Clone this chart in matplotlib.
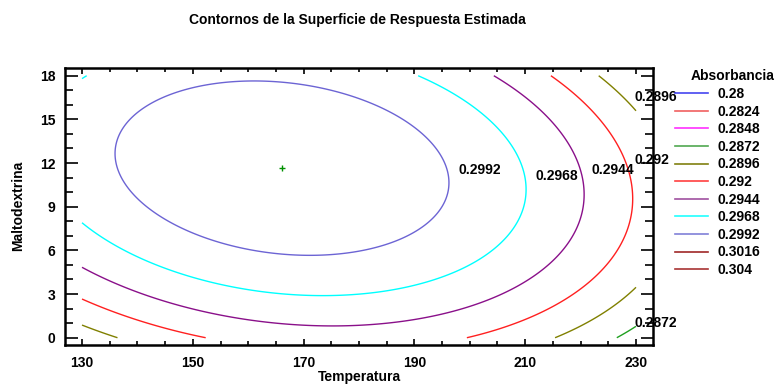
import matplotlib
matplotlib.use("Agg")
import matplotlib.pyplot as plt
import numpy as np
from matplotlib.lines import Line2D
from matplotlib.ticker import MultipleLocator

plt.rcParams['font.family'] = ['Liberation Sans', 'DejaVu Sans']
plt.rcParams['font.weight'] = 'bold'

# estimated response surface (canonical form around the optimum)
temp_opt = 166.1
malto_opt = 11.65
absorb_opt = 0.30131
coef_tt = 2.39e-6     # Temperatura^2
coef_mm = 6.05e-5     # Maltodextrina^2
coef_tm = 4.02e-6     # Temperatura*Maltodextrina

temp_range = [130, 230]
malto_range = [0, 18]

levels = [0.28, 0.2824, 0.2848, 0.2872, 0.2896, 0.292, 0.2944, 0.2968, 0.2992, 0.3016, 0.304]
level_labels = ['0.28', '0.2824', '0.2848', '0.2872', '0.2896', '0.292', '0.2944',
                '0.2968', '0.2992', '0.3016', '0.304']
line_colors = ['#3c3cf0', '#f05050', '#ff00ff', '#20a020', '#808000', '#ff2020',
               '#8a108a', '#00ffff', '#6c64d4', '#9a2424', '#a83030']
legend_colors = ['#4646f0', '#f06060', '#ff30ff', '#50a850', '#808010', '#ff4040',
                 '#a050a0', '#20ffff', '#8080d8', '#a02828', '#a83434']

# contour labels shown on the chart
label_text = ['0.2992', '0.2968', '0.2944', '0.292', '0.2896', '0.2872']
label_x = [197.9, 211.9, 221.9, 229.8, 229.8, 229.8]
label_y = [11.53, 11.12, 11.53, 12.22, 16.57, 1.01]

# evaluate the fitted surface
t = np.linspace(temp_range[0], temp_range[1], 301)
m = np.linspace(malto_range[0], malto_range[1], 301)
T, M = np.meshgrid(t, m)
du = T - temp_opt
dv = M - malto_opt
Z = absorb_opt - (coef_tt * du**2 + coef_mm * dv**2 + coef_tm * du * dv)

fig = plt.figure(figsize=(7.75, 3.85), dpi=100)
ax = fig.add_axes([65/775, 40/385, 588/775, 277/385])

ax.contour(T, M, Z, levels=levels, colors=line_colors, linewidths=1.0)
ax.plot([temp_opt], [malto_opt], marker='+', color='#009000', ms=5, mew=1.0)

for s, x, y in zip(label_text, label_x, label_y):
    ax.text(x, y, s, ha='left', va='center', fontsize=10, fontweight='bold',
            clip_on=False, zorder=5)

ax.set_xlim(126.93, 233.07)
ax.set_ylim(-0.5, 18.53)
ax.xaxis.set_major_locator(MultipleLocator(20))
ax.xaxis.set_minor_locator(MultipleLocator(5))
ax.yaxis.set_major_locator(MultipleLocator(3))
ax.yaxis.set_minor_locator(MultipleLocator(1))
ax.set_xticks(np.arange(130, 231, 20))
ax.tick_params(axis='both', which='both', direction='in', top=True, right=True,
               labelsize=10, width=1.2)
ax.tick_params(axis='x', which='major', length=4, pad=8)
ax.tick_params(axis='x', which='minor', length=3)
ax.tick_params(axis='y', which='major', length=9, pad=7)
ax.tick_params(axis='y', which='minor', length=6)
for lab in ax.get_xticklabels() + ax.get_yticklabels():
    lab.set_fontweight('bold')
for sp in ax.spines.values():
    sp.set_linewidth(1.8)

fig.text(359/775, 1 - 377/385, 'Temperatura', ha='center', va='center',
         fontsize=10, fontweight='bold')
fig.text(18/775, 1 - 206/385, 'Maltodextrina', ha='center', va='center',
         rotation=90, fontsize=10, fontweight='bold')
fig.text(357/775, 1 - 20/385, 'Contornos de la Superficie de Respuesta Estimada',
         ha='center', va='center', fontsize=10, fontweight='bold')

handles = [Line2D([], [], color=c, lw=1.2) for c in legend_colors]
leg = fig.legend(handles, level_labels, loc='upper left',
                 bbox_to_anchor=(675/775, 1 - 87/385), frameon=False,
                 fontsize=10, handlelength=2.37,
                 handletextpad=0.72, labelspacing=0.26, borderaxespad=0,
                 borderpad=0)
for txt in leg.get_texts():
    txt.set_fontweight('bold')
fig.text(733/775, 1 - 76/385, 'Absorbancia', ha='center', va='center',
         fontsize=10, fontweight='bold')

fig.savefig('out.png', dpi=100)
